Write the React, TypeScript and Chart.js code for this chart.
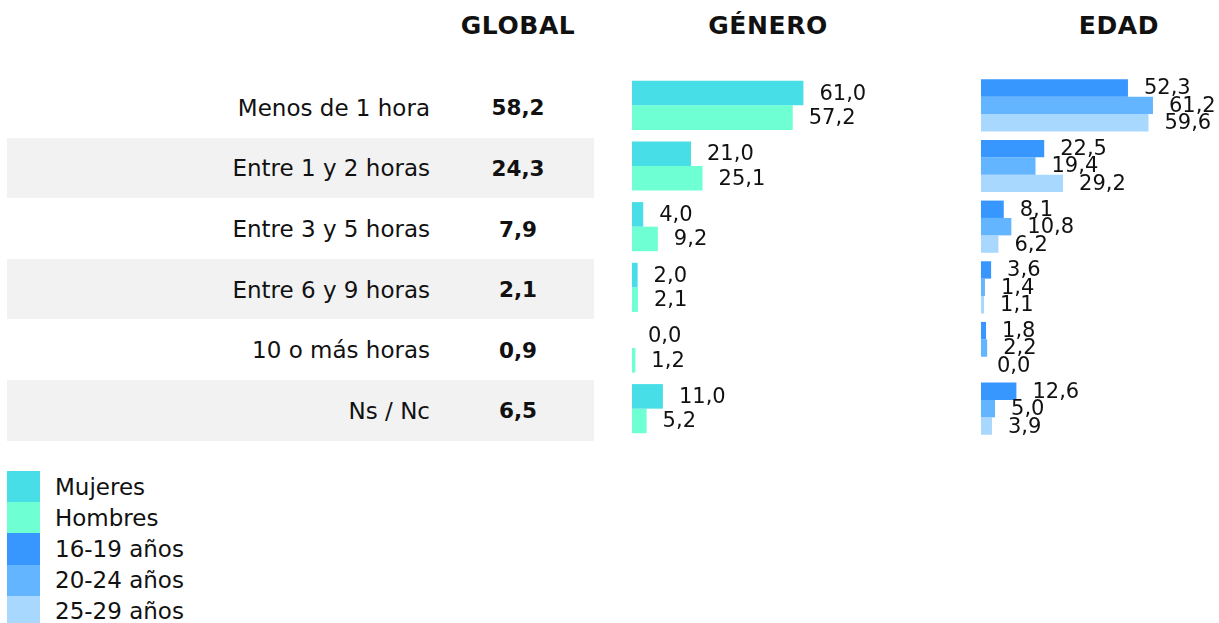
import React, { useEffect, useRef } from "react";
import { Chart, registerables } from "chart.js";

Chart.register(...registerables);

const categories = [
  "Menos de 1 hora",
  "Entre 1 y 2 horas",
  "Entre 3 y 5 horas",
  "Entre 6 y 9 horas",
  "10 o más horas",
  "Ns / Nc",
];
const globalValues = [58.2, 24.3, 7.9, 2.1, 0.9, 6.5];
const mujeres = [61.0, 21.0, 4.0, 2.0, 0.0, 11.0];
const hombres = [57.2, 25.1, 9.2, 2.1, 1.2, 5.2];
const edad16_19 = [52.3, 22.5, 8.1, 3.6, 1.8, 12.6];
const edad20_24 = [61.2, 19.4, 10.8, 1.4, 2.2, 5.0];
const edad25_29 = [59.6, 29.2, 6.2, 1.1, 0.0, 3.9];

const headers = ["GLOBAL", "GÉNERO", "EDAD"];
const legendLabels = ["Mujeres", "Hombres", "16-19 años", "20-24 años", "25-29 años"];
const colors = ["#48DEE8", "#6EFFD2", "#3797FF", "#64B5FF", "#A9D8FF"];

const FONT = '"DejaVu Sans", sans-serif';
const ROW_TOP = 77;
const ROW_H = 60.6;

const fmt = (v: number) => v.toFixed(1).replace(".", ",");

const valueLabelPlugin = {
  id: "valueLabels",
  afterDatasetsDraw(chart: any) {
    const ctx = chart.ctx;
    ctx.save();
    ctx.font = `21px ${FONT}`;
    ctx.fillStyle = "#111";
    ctx.textAlign = "left";
    ctx.textBaseline = "middle";
    chart.data.datasets.forEach((ds: any, i: number) => {
      const meta = chart.getDatasetMeta(i);
      meta.data.forEach((bar: any, j: number) => {
        ctx.fillText(fmt(ds.data[j]), bar.x + 16, bar.y + 1);
      });
    });
    ctx.restore();
  },
};

function BarChart(props: {
  series: { label: string; data: number[]; color: string }[];
  max: number;
  width: number;
  height: number;
  catPct: number;
  style: React.CSSProperties;
}) {
  const ref = useRef<HTMLCanvasElement>(null);
  useEffect(() => {
    if (!ref.current) return;
    const chart = new Chart(ref.current, {
      type: "bar",
      data: {
        labels: categories,
        datasets: props.series.map((s) => ({
          label: s.label,
          data: s.data,
          backgroundColor: s.color,
          borderWidth: 0,
          barPercentage: 1,
          categoryPercentage: props.catPct,
        })),
      },
      options: {
        indexAxis: "y",
        responsive: false,
        animation: false,
        layout: { padding: 0 },
        plugins: { legend: { display: false }, tooltip: { enabled: false } },
        scales: {
          x: { display: false, min: 0, max: props.max },
          y: { display: false },
        },
      },
      plugins: [valueLabelPlugin],
    } as any);
    return () => chart.destroy();
  }, []);
  return (
    <canvas
      ref={ref}
      width={props.width}
      height={props.height}
      style={{ position: "absolute", width: props.width, height: props.height, ...props.style }}
    />
  );
}

export default function App() {
  const text: React.CSSProperties = {
    position: "absolute",
    fontFamily: FONT,
    color: "#111",
    whiteSpace: "nowrap",
    lineHeight: "1",
  };
  const headerCenters = [518, 768, 1119];
  return (
    <div
      style={{
        position: "absolute",
        left: 0,
        top: 0,
        width: 1219,
        height: 623,
        background: "#fff",
        overflow: "hidden",
      }}
    >
      {headers.map((h, i) => (
        <div
          key={h}
          style={{
            ...text,
            left: headerCenters[i] - 100,
            width: 200,
            textAlign: "center",
            top: 13,
            fontSize: 25,
            letterSpacing: 0.6,
            fontWeight: "bold",
          }}
        >
          {h}
        </div>
      ))}
      {categories.map((c, i) => (
        <React.Fragment key={c}>
          {i % 2 === 1 && (
            <div
              style={{
                position: "absolute",
                left: 7,
                width: 587,
                top: ROW_TOP + i * ROW_H,
                height: ROW_H,
                background: "#F2F2F2",
              }}
            />
          )}
          <div
            style={{
              ...text,
              right: 1219 - 430,
              top: ROW_TOP + i * ROW_H + ROW_H / 2 - 10.5,
              fontSize: 23,
              textAlign: "right",
            }}
          >
            {c}
          </div>
          <div
            style={{
              ...text,
              left: 418,
              width: 200,
              textAlign: "center",
              top: ROW_TOP + i * ROW_H + ROW_H / 2 - 10,
              fontSize: 21.5,
              fontWeight: "bold",
            }}
          >
            {fmt(globalValues[i])}
          </div>
        </React.Fragment>
      ))}
      <BarChart
        series={[
          { label: "Mujeres", data: mujeres, color: colors[0] },
          { label: "Hombres", data: hombres, color: colors[1] },
        ]}
        max={100}
        width={281}
        height={364}
        catPct={0.81}
        style={{ left: 632, top: 74.5 }}
      />
      <BarChart
        series={[
          { label: "16-19 años", data: edad16_19, color: colors[2] },
          { label: "20-24 años", data: edad20_24, color: colors[3] },
          { label: "25-29 años", data: edad25_29, color: colors[4] },
        ]}
        max={84.7}
        width={238}
        height={364}
        catPct={0.86}
        style={{ left: 981, top: 74.5 }}
      />
      {legendLabels.map((l, i) => (
        <React.Fragment key={l}>
          <div
            style={{
              position: "absolute",
              left: 7,
              width: 33,
              top: 471 + i * 31.2,
              height: 31.2,
              background: colors[i],
            }}
          />
          <div
            style={{
              ...text,
              left: 55,
              top: 471 + i * 31.2 + 15.6 - 11,
              fontSize: 23,
            }}
          >
            {l}
          </div>
        </React.Fragment>
      ))}
    </div>
  );
}
